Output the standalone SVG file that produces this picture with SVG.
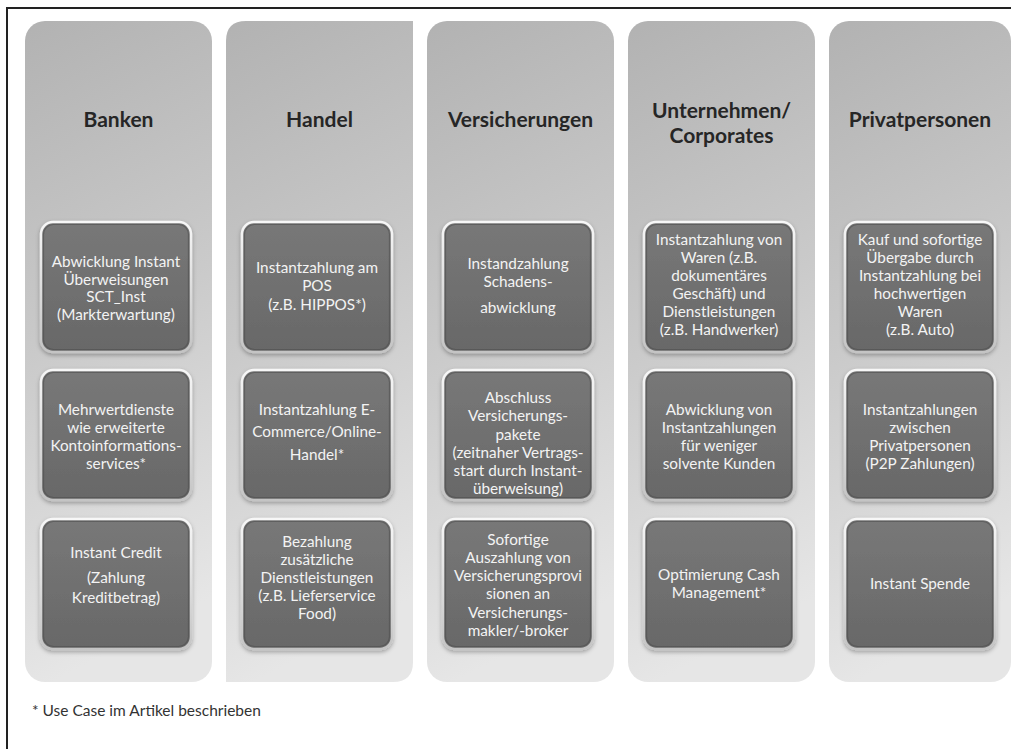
<svg xmlns="http://www.w3.org/2000/svg" width="1011" height="749" viewBox="0 0 1011 749">
  <defs>
    <linearGradient id="colFill" x1="0" y1="0" x2="0.15" y2="1">
      <stop offset="0" stop-color="#b2b2b2"/>
      <stop offset="0.5" stop-color="#cacaca"/>
      <stop offset="1" stop-color="#e6e6e6"/>
    </linearGradient>
    <linearGradient id="boxFill" x1="0" y1="0" x2="0" y2="1">
      <stop offset="0" stop-color="#787878"/>
      <stop offset="1" stop-color="#686868"/>
    </linearGradient>
    <linearGradient id="boxRim" x1="0" y1="0" x2="0" y2="1">
      <stop offset="0" stop-color="#f7f7f7"/>
      <stop offset="1" stop-color="#c4c4c4"/>
    </linearGradient>
    <filter id="shadow" x="-10%" y="-10%" width="120%" height="125%">
      <feDropShadow dx="0" dy="2" stdDeviation="2" flood-color="#000" flood-opacity="0.3"/>
    </filter>
    <style>
      .col { fill: url(#colFill); }
      .box { fill: url(#boxFill); stroke: url(#boxRim); stroke-width: 2.5; filter: url(#shadow); }
      .bevel { fill: none; stroke: #4e4e4e; stroke-width: 1.2; opacity: 0.6; }
      .head { font-family: Lato, "Open Sans", sans-serif; font-weight: bold; font-size: 21px; fill: #262626; text-anchor: middle; }
      .txt { font-family: Lato, "Open Sans", sans-serif; font-size: 15.3px; fill: #f3f3f3; text-anchor: middle; }
      .note { font-family: Lato, "Open Sans", sans-serif; font-size: 15.5px; fill: #333333; }
    </style>
  </defs>

  <rect width="1011" height="749" fill="#ffffff"/>
  <!-- outer frame -->
  <rect x="7" y="8" width="1012" height="750" fill="none" stroke="#222222" stroke-width="2"/>

  <!-- columns -->
  <g id="col-banken">
    <rect class="col" x="25" y="21" width="187" height="661" rx="20"/>
    <text class="head" x="118.5" y="127">Banken</text>
  </g>
  <g id="col-handel">
    <path class="col" d="M246,21 H413 V662 Q413,682 393,682 H226 V41 Q226,21 246,21 Z"/>
    <text class="head" x="319.5" y="127">Handel</text>
  </g>
  <g id="col-versicherungen">
    <rect class="col" x="427" y="21" width="187" height="661" rx="20"/>
    <text class="head" x="520.5" y="127">Versicherungen</text>
  </g>
  <g id="col-unternehmen">
    <rect class="col" x="628" y="21" width="187" height="661" rx="20"/>
    <text class="head" x="721.5" y="118">Unternehmen/</text>
    <text class="head" x="721.5" y="143">Corporates</text>
  </g>
  <g id="col-privat">
    <rect class="col" x="829" y="21" width="182" height="661" rx="20"/>
    <text class="head" x="920" y="127">Privatpersonen</text>
  </g>

  <!-- Banken -->
  <g id="b1">
    <rect class="box" x="41" y="222" width="150" height="130" rx="12"/>
    <rect class="bevel" x="43.5" y="224.5" width="145" height="125" rx="10"/>
    <text class="txt" x="116" y="267">Abwicklung Instant</text>
    <text class="txt" x="116" y="285">Überweisungen</text>
    <text class="txt" x="116" y="302">SCT_Inst</text>
    <text class="txt" x="116" y="320">(Markterwartung)</text>
  </g>
  <g id="b2">
    <rect class="box" x="41" y="370" width="150" height="130" rx="12"/>
    <rect class="bevel" x="43.5" y="372.5" width="145" height="125" rx="10"/>
    <text class="txt" x="116" y="415">Mehrwertdienste</text>
    <text class="txt" x="116" y="433">wie erweiterte</text>
    <text class="txt" x="116" y="451">Kontoinformations-</text>
    <text class="txt" x="116" y="469">services*</text>
  </g>
  <g id="b3">
    <rect class="box" x="41" y="519" width="150" height="130" rx="12"/>
    <rect class="bevel" x="43.5" y="521.5" width="145" height="125" rx="10"/>
    <text class="txt" x="116" y="558">Instant Credit</text>
    <text class="txt" x="116" y="583">(Zahlung</text>
    <text class="txt" x="116" y="603">Kreditbetrag)</text>
  </g>

  <!-- Handel -->
  <g id="h1">
    <rect class="box" x="242" y="222" width="150" height="130" rx="12"/>
    <rect class="bevel" x="244.5" y="224.5" width="145" height="125" rx="10"/>
    <text class="txt" x="317" y="273">Instantzahlung am</text>
    <text class="txt" x="317" y="291">POS</text>
    <text class="txt" x="317" y="310">(z.B. HIPPOS*)</text>
  </g>
  <g id="h2">
    <rect class="box" x="242" y="370" width="150" height="130" rx="12"/>
    <rect class="bevel" x="244.5" y="372.5" width="145" height="125" rx="10"/>
    <text class="txt" x="317" y="415">Instantzahlung E-</text>
    <text class="txt" x="317" y="437">Commerce/Online-</text>
    <text class="txt" x="317" y="460">Handel*</text>
  </g>
  <g id="h3">
    <rect class="box" x="242" y="519" width="150" height="130" rx="12"/>
    <rect class="bevel" x="244.5" y="521.5" width="145" height="125" rx="10"/>
    <text class="txt" x="317" y="547">Bezahlung</text>
    <text class="txt" x="317" y="565">zusätzliche</text>
    <text class="txt" x="317" y="583">Dienstleistungen</text>
    <text class="txt" x="317" y="601">(z.B. Lieferservice</text>
    <text class="txt" x="317" y="619">Food)</text>
  </g>

  <!-- Versicherungen -->
  <g id="v1">
    <rect class="box" x="443" y="222" width="150" height="130" rx="12"/>
    <rect class="bevel" x="445.5" y="224.5" width="145" height="125" rx="10"/>
    <text class="txt" x="518" y="269">Instandzahlung</text>
    <text class="txt" x="518" y="287">Schadens-</text>
    <text class="txt" x="518" y="313">abwicklung</text>
  </g>
  <g id="v2">
    <rect class="box" x="443" y="370" width="150" height="130" rx="12"/>
    <rect class="bevel" x="445.5" y="372.5" width="145" height="125" rx="10"/>
    <text class="txt" x="518" y="403">Abschluss</text>
    <text class="txt" x="518" y="421">Versicherungs-</text>
    <text class="txt" x="518" y="440">pakete</text>
    <text class="txt" x="518" y="458">(zeitnaher Vertrags-</text>
    <text class="txt" x="518" y="476">start durch Instant-</text>
    <text class="txt" x="518" y="494">überweisung)</text>
  </g>
  <g id="v3">
    <rect class="box" x="443" y="519" width="150" height="130" rx="12"/>
    <rect class="bevel" x="445.5" y="521.5" width="145" height="125" rx="10"/>
    <text class="txt" x="518" y="545">Sofortige</text>
    <text class="txt" x="518" y="563">Auszahlung von</text>
    <text class="txt" x="518" y="581">Versicherungsprovi</text>
    <text class="txt" x="518" y="599">sionen an</text>
    <text class="txt" x="518" y="618">Versicherungs-</text>
    <text class="txt" x="518" y="636">makler/-broker</text>
  </g>

  <!-- Unternehmen / Corporates -->
  <g id="u1">
    <rect class="box" x="644" y="222" width="150" height="130" rx="12"/>
    <rect class="bevel" x="646.5" y="224.5" width="145" height="125" rx="10"/>
    <text class="txt" x="719" y="245">Instantzahlung von</text>
    <text class="txt" x="719" y="263">Waren (z.B.</text>
    <text class="txt" x="719" y="281">dokumentäres</text>
    <text class="txt" x="719" y="299">Geschäft) und</text>
    <text class="txt" x="719" y="317">Dienstleistungen</text>
    <text class="txt" x="719" y="335">(z.B. Handwerker)</text>
  </g>
  <g id="u2">
    <rect class="box" x="644" y="370" width="150" height="130" rx="12"/>
    <rect class="bevel" x="646.5" y="372.5" width="145" height="125" rx="10"/>
    <text class="txt" x="719" y="415">Abwicklung von</text>
    <text class="txt" x="719" y="433">Instantzahlungen</text>
    <text class="txt" x="719" y="451">für weniger</text>
    <text class="txt" x="719" y="469">solvente Kunden</text>
  </g>
  <g id="u3">
    <rect class="box" x="644" y="519" width="150" height="130" rx="12"/>
    <rect class="bevel" x="646.5" y="521.5" width="145" height="125" rx="10"/>
    <text class="txt" x="719" y="580">Optimierung Cash</text>
    <text class="txt" x="719" y="598">Management*</text>
  </g>

  <!-- Privatpersonen -->
  <g id="p1">
    <rect class="box" x="845" y="222" width="150" height="130" rx="12"/>
    <rect class="bevel" x="847.5" y="224.5" width="145" height="125" rx="10"/>
    <text class="txt" x="920" y="245">Kauf und sofortige</text>
    <text class="txt" x="920" y="263">Übergabe durch</text>
    <text class="txt" x="920" y="281">Instantzahlung bei</text>
    <text class="txt" x="920" y="299">hochwertigen</text>
    <text class="txt" x="920" y="317">Waren</text>
    <text class="txt" x="920" y="335">(z.B. Auto)</text>
  </g>
  <g id="p2">
    <rect class="box" x="845" y="370" width="150" height="130" rx="12"/>
    <rect class="bevel" x="847.5" y="372.5" width="145" height="125" rx="10"/>
    <text class="txt" x="920" y="415">Instantzahlungen</text>
    <text class="txt" x="920" y="433">zwischen</text>
    <text class="txt" x="920" y="451">Privatpersonen</text>
    <text class="txt" x="920" y="469">(P2P Zahlungen)</text>
  </g>
  <g id="p3">
    <rect class="box" x="845" y="519" width="150" height="130" rx="12"/>
    <rect class="bevel" x="847.5" y="521.5" width="145" height="125" rx="10"/>
    <text class="txt" x="920" y="589">Instant Spende</text>
  </g>

  <g id="connectors"/>

  <text class="note" x="32" y="716">* Use Case im Artikel beschrieben</text>
</svg>
